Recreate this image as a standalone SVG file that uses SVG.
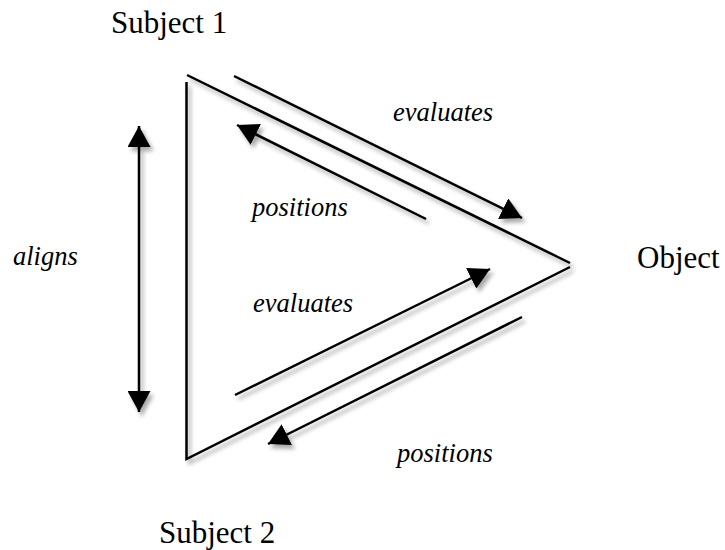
<svg xmlns="http://www.w3.org/2000/svg" width="725" height="550" viewBox="0 0 725 550">
  <defs>
    <filter id="shadow" x="-10%" y="-10%" width="130%" height="130%">
      <feDropShadow dx="3" dy="4" stdDeviation="2.2" flood-color="#000" flood-opacity="0.35"/>
    </filter>
    <marker id="arrow" viewBox="0 0 21 23" refX="21" refY="11.5" markerWidth="21" markerHeight="23" markerUnits="userSpaceOnUse" orient="auto-start-reverse">
      <path d="M0,0 L21,11.5 L0,23 Z" fill="#000"/>
    </marker>
  </defs>
  <style>
    .edge { fill: none; stroke: #000; stroke-width: 2.5; }
    .arr { fill: none; stroke: #000; stroke-width: 2.5; marker-end: url(#arrow); }
    .label { font-family: "Liberation Serif", "Times New Roman", serif; font-size: 31px; fill: #000; }
    .verb { font-family: "Liberation Serif", "Times New Roman", serif; font-size: 26.5px; font-style: italic; fill: #000; }
  </style>
  <rect width="725" height="550" fill="#fff"/>

  <g id="connectors" filter="url(#shadow)">
    <line class="edge" x1="187" y1="75" x2="570" y2="263"/>
    <polyline class="edge" points="186.5,82 186.5,459 570,267"/>
    <line class="arr" x1="234" y1="76" x2="522" y2="218"/>
    <line class="arr" x1="426" y1="219" x2="237" y2="125"/>
    <line class="arr" x1="235" y1="395" x2="490" y2="269"/>
    <line class="arr" x1="522" y1="317" x2="268" y2="444"/>
    <line class="arr" x1="139" y1="126" x2="139" y2="412" marker-start="url(#arrow)"/>
  </g>

  <g id="subject1"><text class="label" x="111" y="33">Subject 1</text></g>
  <g id="object"><text class="label" x="637" y="268">Object</text></g>
  <g id="subject2"><text class="label" x="159" y="543">Subject 2</text></g>

  <g id="labels">
    <text class="verb" x="393" y="121">evaluates</text>
    <text class="verb" x="252" y="216">positions</text>
    <text class="verb" x="253" y="312">evaluates</text>
    <text class="verb" x="397" y="462">positions</text>
    <text class="verb" x="13" y="265">aligns</text>
  </g>
</svg>
